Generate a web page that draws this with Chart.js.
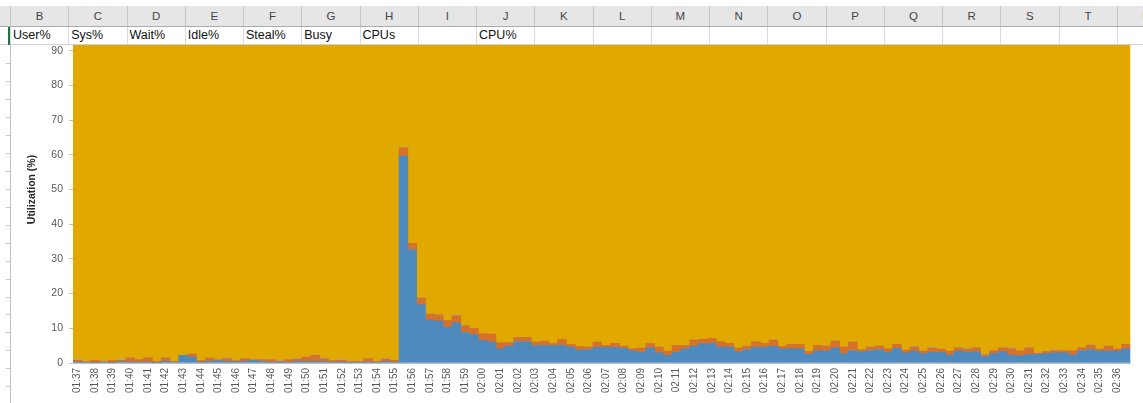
<!DOCTYPE html>
<html>
<head>
<meta charset="utf-8">
<script src="https://cdn.jsdelivr.net/npm/chart.js@4/dist/chart.umd.min.js"></script>
<style>
  html, body { margin: 0; padding: 0; background: #fff; }
  #sheet { position: relative; width: 1143px; height: 403px; overflow: hidden; background: #fff; font-family: 'Liberation Sans', Arial, sans-serif; }
  #chartBox { position: absolute; left: 11px; top: 0; width: 1132px; height: 403px; }
  #colHead { position: absolute; left: 0; top: 6px; width: 1143px; height: 21px; background: #e6e6e6; border-bottom: 1px solid #ababab; box-sizing: border-box; z-index: 2; }
  #row2 { position: absolute; left: 0; top: 27px; width: 1143px; height: 18px; background: #fff; border-bottom: 1px solid #d0d0d0; box-sizing: border-box; z-index: 2; }
  #topStrip { position: absolute; left: 0; top: 0; width: 1143px; height: 6px; background: #fff; z-index: 2; }
  .colLetter { position: absolute; top: 0; height: 20px; line-height: 20px; text-align: center; font-size: 11.5px; color: #444; border-left: 1px solid #c6c6c6; box-sizing: border-box; }
  .cell { position: absolute; top: 0; height: 17px; line-height: 17px; padding-left: 2px; font-size: 12.5px; color: #111; border-left: 1px solid #dadada; box-sizing: border-box; white-space: nowrap; }
  #rowHeadLine { position: absolute; left: 10px; top: 44px; width: 1px; height: 359px; background: #bdbdbd; z-index: 1; }
  .rowTick { position: absolute; left: 6px; width: 4px; height: 1px; background: #c8c8c8; z-index: 1; }
  #activeMark { position: absolute; left: 8px; top: 27px; width: 2px; height: 18px; background: #217346; z-index: 3; }
</style>
</head>
<body>
<div id="sheet">
  <div id="chartBox"><canvas id="cpu" width="1132" height="403"></canvas></div>
  <div id="topStrip"></div>
  <div id="colHead"></div>
  <div id="row2"></div>
  <div id="activeMark"></div>
  <div id="rowHeadLine"></div>
</div>
<script>
// Worksheet header: column letters and the header cells of row 1
const columnLetters = ['B','C','D','E','F','G','H','I','J','K','L','M','N','O','P','Q','R','S','T','U'];
const headerCells = ['User%','Sys%','Wait%','Idle%','Steal%','Busy','CPUs','','CPU%','','','','','','','','','','',''];

// Minute tick labels (one sample every 30 seconds, two per minute)
const minuteLabels = [
  '01:37','01:38','01:39','01:40','01:41','01:42','01:43','01:44','01:45','01:46',
  '01:47','01:48','01:49','01:50','01:51','01:52','01:53','01:54','01:55','01:56',
  '01:57','01:58','01:59','02:00','02:01','02:02','02:03','02:04','02:05','02:06',
  '02:07','02:08','02:09','02:10','02:11','02:12','02:13','02:14','02:15','02:16',
  '02:17','02:18','02:19','02:20','02:21','02:22','02:23','02:24','02:25','02:26',
  '02:27','02:28','02:29','02:30','02:31','02:32','02:33','02:34','02:35','02:36'
];
const categories = minuteLabels.flatMap(m => [m + ':00', m + ':30']);

// CPU utilisation per sample (%)
const userPct = [
  0.3,0.3,0.2,0.3,0.2,0.4,0.3,0.3,0.3,0.2,
  0.5,0.3,2.2,1.7,0.3,0.5,0.7,0.5,0.4,0.5,
  0.8,0.5,0.3,0.3,0.3,0.5,0.4,0.4,0.4,0.3,
  0.3,0.3,0.3,0.3,0.3,0.4,0.3,59.6,32.7,16.8,
  12.4,12.1,10.3,11.6,8.8,8.2,6.5,6.0,4.1,4.9,
  6.2,6.2,5.0,5.0,5.0,5.1,4.6,3.7,3.9,4.5,
  4.5,4.5,4.2,3.5,3.1,4.4,2.9,2.2,3.1,4.1,
  4.9,5.5,5.7,4.6,4.6,3.2,3.9,4.5,4.5,4.9,
  4.1,4.1,4.1,2.5,3.5,3.5,4.4,2.7,3.6,3.2,
  3.6,3.9,3.1,4.2,2.9,3.4,2.7,3.1,3.1,2.3,
  3.4,3.1,3.2,1.8,2.7,3.3,2.3,2.1,2.4,2.4,
  2.7,2.9,2.9,2.3,3.6,3.9,3.4,3.4,3.4,4.1
];
const sysPct = [
  0.5,0.1,0.6,0.1,0.6,0.4,1.2,0.7,1.2,0.2,
  1.0,0.1,0.0,0.9,0.4,0.9,0.2,0.8,0.2,0.8,
  0.1,0.5,0.6,0.2,0.7,0.6,1.3,1.8,0.8,0.4,
  0.5,0.1,0.1,1.0,0.1,0.7,0.5,2.4,1.8,1.9,
  1.7,1.8,1.9,2.0,1.9,1.8,2.0,2.3,1.8,1.0,
  1.2,1.2,1.0,1.3,0.6,1.7,0.8,1.1,0.7,1.5,
  0.6,1.2,0.7,0.6,1.2,1.2,1.7,1.2,2.0,0.9,
  1.7,1.3,1.4,1.6,1.1,1.1,1.0,1.7,1.2,1.7,
  0.7,1.3,1.3,0.8,1.6,1.4,1.9,1.9,2.4,0.7,
  1.0,1.0,1.0,1.2,0.8,1.2,0.7,1.2,0.9,1.1,
  1.0,0.9,1.2,0.5,0.9,1.1,1.8,1.4,2.0,0.4,
  0.6,0.7,0.7,1.3,0.8,1.3,0.6,1.5,0.6,1.3
];
const waitPct = [
  0.2,0,0,0,0,0.2,0,0,0,0,
  0,0,0,0,0,0,0,0.2,0,0,
  0,0,0,0.2,0,0.2,0,0.1,0.2,0,
  0.2,0,0,0,0,0.2,0,0,0,0,
  0,0,0,0.2,0,0,0,0,0,0,
  0,0,0,0,0,0,0,0,0,0,
  0,0,0,0,0,0,0,0,0,0,
  0,0,0,0,0,0,0,0,0,0,
  0,0,0,0,0,0,0,0,0,0,
  0,0,0,0,0,0.2,0,0.2,0,0,
  0,0.2,0,0.2,0,0,0.2,0,0,0.2,
  0,0.2,0,0,0,0,0,0,0,0
];
const idlePct = [
  99.0,99.6,99.2,99.6,99.2,99.0,98.5,99.0,98.5,99.6,
  98.5,99.6,97.8,97.4,99.3,98.6,99.1,98.5,99.4,98.7,
  99.1,99.0,99.1,99.3,99.0,98.7,98.3,97.7,98.6,99.3,
  99.0,99.6,99.6,98.7,99.6,98.7,99.2,38.0,65.5,81.3,
  85.9,86.1,87.8,86.2,89.3,90.0,91.5,91.7,94.1,94.1,
  92.6,92.6,94.0,93.7,94.4,93.2,94.6,95.2,95.4,94.0,
  94.9,94.3,95.1,95.9,95.7,94.4,95.4,96.6,94.9,95.0,
  93.4,93.2,92.9,93.8,94.3,95.7,95.1,93.8,94.3,93.4,
  95.2,94.6,94.6,96.7,94.9,95.1,93.7,95.4,94.0,96.1,
  95.4,95.1,95.9,94.6,96.3,95.2,96.6,95.5,96.0,96.6,
  95.6,95.8,95.6,97.5,96.4,95.6,95.7,96.5,95.6,97.0,
  96.7,96.2,96.4,96.4,95.6,94.8,96.0,95.1,96.0,94.6
];

// Build the worksheet header rows
const COL_W = 58.25, COL_X0 = 10;
const colHead = document.getElementById('colHead');
const row2 = document.getElementById('row2');
columnLetters.forEach((letter, k) => {
  const x = COL_X0 + COL_W * k;
  const h = document.createElement('div');
  h.className = 'colLetter';
  h.style.left = x + 'px';
  h.style.width = COL_W + 'px';
  h.textContent = letter;
  colHead.appendChild(h);
  const c = document.createElement('div');
  c.className = 'cell';
  c.style.left = x + 'px';
  c.style.width = COL_W + 'px';
  c.textContent = headerCells[k];
  row2.appendChild(c);
});
// Row boundary marks along the partly hidden row-number column
const sheet = document.getElementById('sheet');
for (let y = 63.3; y < 403; y += 17.94) {
  const t = document.createElement('div');
  t.className = 'rowTick';
  t.style.top = Math.round(y) + 'px';
  sheet.appendChild(t);
}

Chart.defaults.font.family = "'Liberation Sans', Arial, sans-serif";

new Chart(document.getElementById('cpu'), {
  type: 'bar',
  data: {
    labels: categories,
    datasets: [
      { label: 'User%', data: userPct, backgroundColor: '#4f8abe' },
      { label: 'Sys%',  data: sysPct,  backgroundColor: '#d5712b' },
      { label: 'Wait%', data: waitPct, backgroundColor: '#a0a0a0' },
      { label: 'Idle%', data: idlePct, backgroundColor: '#e1a800' }
    ]
  },
  options: {
    responsive: false,
    animation: false,
    datasets: { bar: { categoryPercentage: 1, barPercentage: 1, borderWidth: 0 } },
    layout: { padding: { top: 16, right: 2, left: 0, bottom: 0 } },
    plugins: { legend: { display: false }, tooltip: { enabled: false } },
    scales: {
      x: {
        stacked: true,
        z: 1,
        grid: { display: false, drawTicks: false },
        border: { display: true, color: '#bfbfbf', width: 1 },
        ticks: {
          autoSkip: false, maxRotation: 90, minRotation: 90, padding: 5,
          color: '#595959', font: { size: 10 },
          callback: (v, i) => (i % 2 === 0 ? categories[i].slice(0, 5) : '')
        },
        afterFit: s => { s.height = 40; }
      },
      y: {
        stacked: true,
        min: 0, max: 100,
        grid: { drawOnChartArea: false, tickLength: 4, color: '#bfbfbf' },
        border: { display: true, color: '#d9d9d9' },
        ticks: { stepSize: 10, padding: 6, color: '#595959', font: { size: 10.5 } },
        title: {
          display: true, text: 'Utilization (%)', color: '#262626',
          font: { size: 10.5, weight: 'bold' }, padding: { top: 15, bottom: 0 }
        },
        afterFit: s => { s.width = 62; }
      }
    }
  }
});
</script>
</body>
</html>
